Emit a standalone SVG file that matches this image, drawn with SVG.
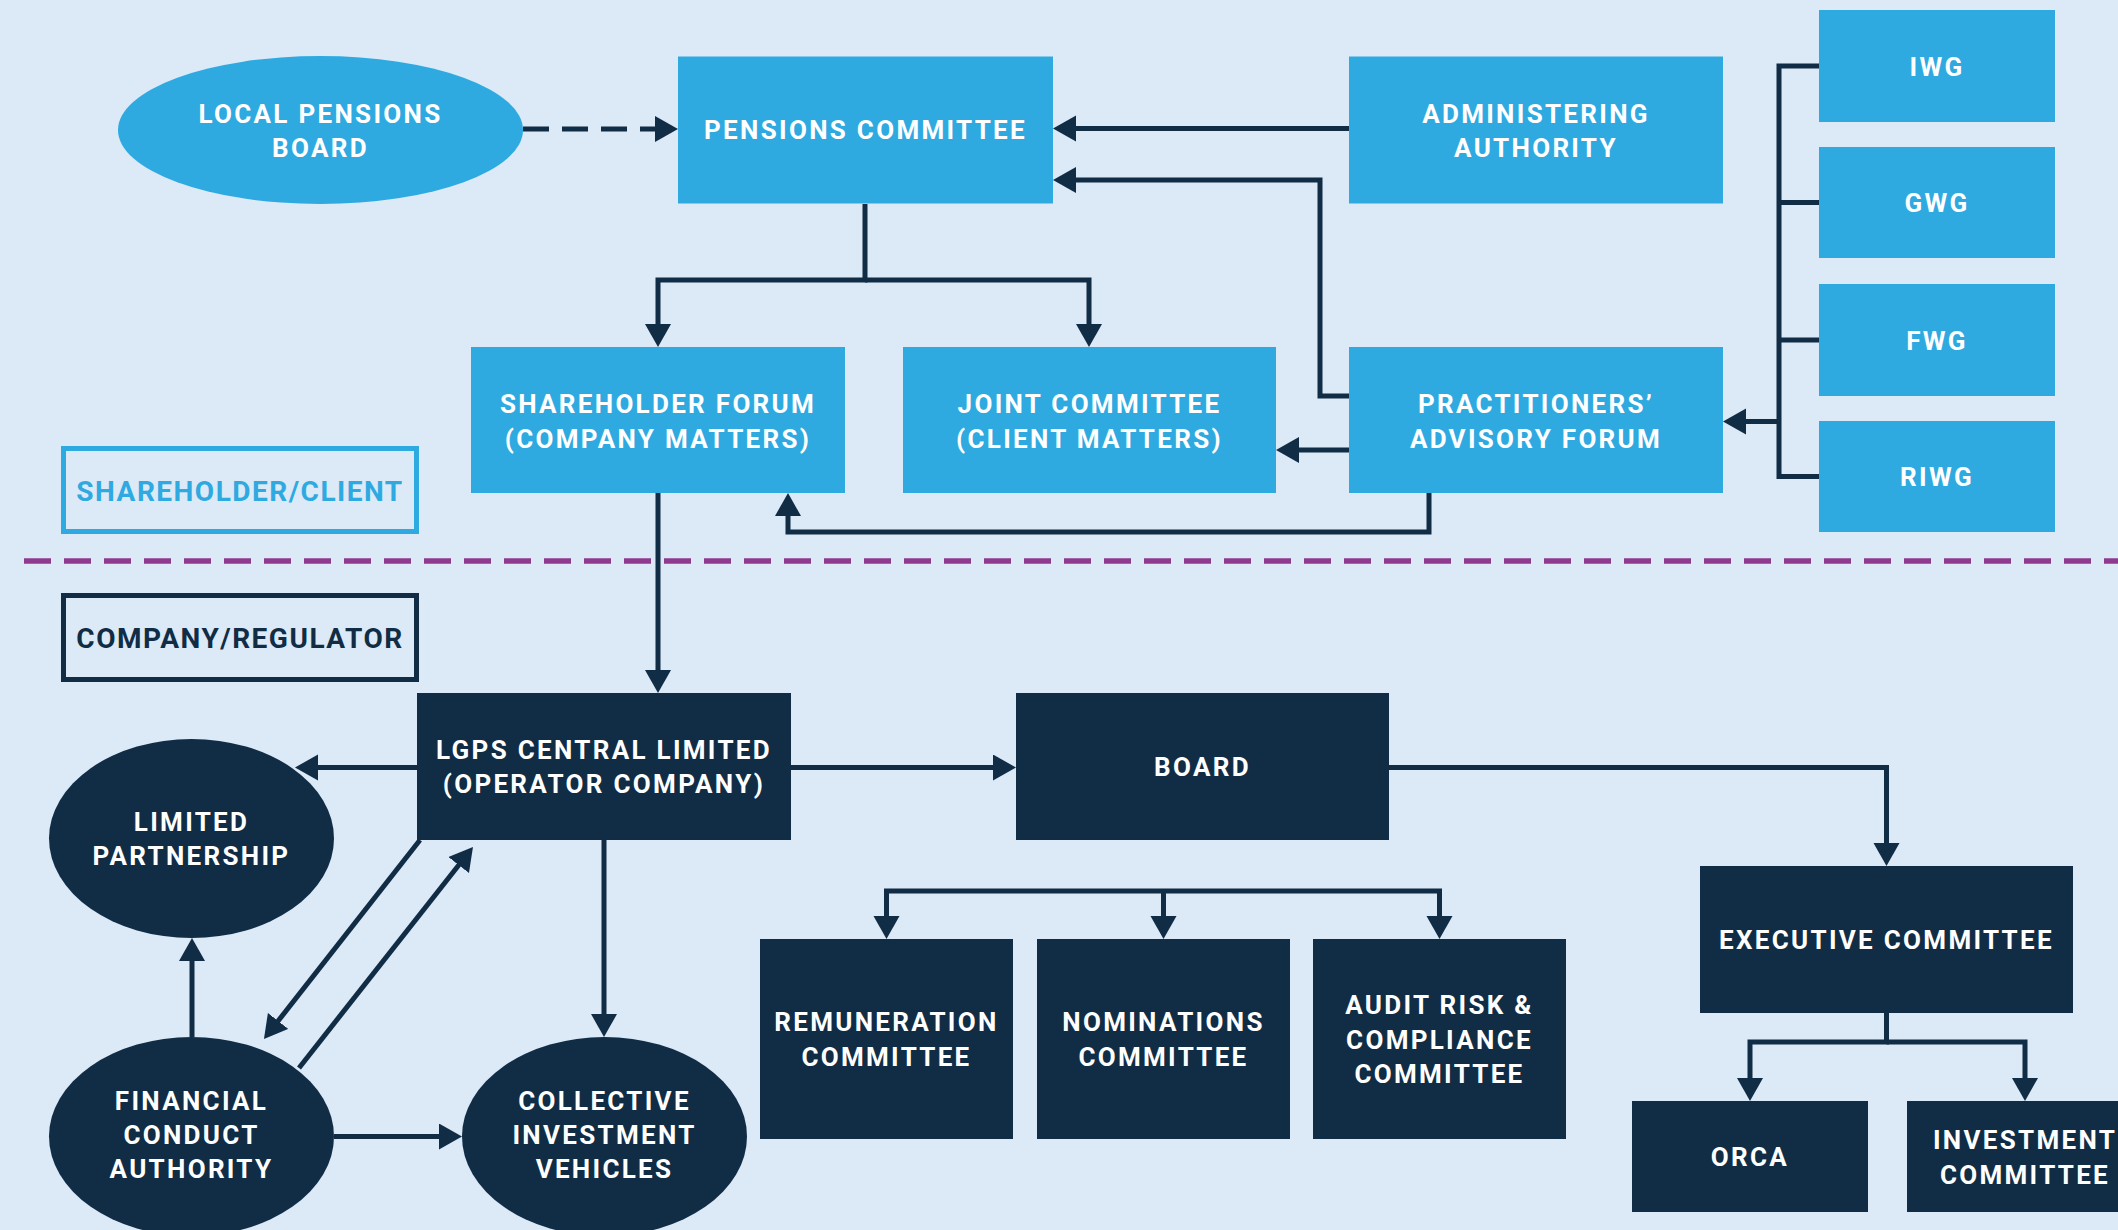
<svg xmlns="http://www.w3.org/2000/svg" width="2118" height="1230" viewBox="0 0 2118 1230">
  <defs>
    <style>
      .bg { fill: #dce9f7; }
      .lb { fill: #2eaae1; }
      .dk { fill: #102d45; }
      .t { font-family: Roboto, "Liberation Sans", sans-serif; font-weight: 700; font-size: 26px; letter-spacing: 2.3px; fill: #ffffff; text-anchor: middle; }
      .lab { font-family: Roboto, "Liberation Sans", sans-serif; font-weight: 700; font-size: 28px; letter-spacing: 1.5px; text-anchor: middle; }
      .conn path { fill: none; stroke: #102d45; stroke-width: 5; }
      .conn path.arr { marker-end: url(#ah); }
    </style>
    <marker id="ah" markerUnits="userSpaceOnUse" markerWidth="24" markerHeight="27" refX="3" refY="13" orient="auto-start-reverse" viewBox="0 0 24 27">
      <path d="M0,0 L23,13 L0,26 z" fill="#102d45"/>
    </marker>
  </defs>

  <rect class="bg" x="0" y="0" width="2118" height="1230"/>

  <!-- section divider -->
  <line x1="24" y1="561" x2="2118" y2="561" stroke="#8f3a8f" stroke-width="5.5" stroke-dasharray="27 13"/>

  <!-- section labels -->
  <g id="label-shareholder-client">
    <rect x="63.5" y="448.5" width="353" height="83" fill="none" stroke="#2eaae1" stroke-width="5"/>
    <text class="lab" x="240" y="501" fill="#2eaae1">SHAREHOLDER/CLIENT</text>
  </g>
  <g id="label-company-regulator">
    <rect x="63.5" y="595.5" width="353" height="84" fill="none" stroke="#102d45" stroke-width="5"/>
    <text class="lab" x="240" y="647.5" fill="#102d45">COMPANY/REGULATOR</text>
  </g>

  <!-- connectors -->
  <g id="connectors" class="conn">
    <path class="arr" d="M523,129 H658" stroke-dasharray="26 13"/>
    <path class="arr" d="M1349,128.5 H1073"/>
    <path class="arr" d="M1349,396 H1320 V180 H1073"/>
    <path class="arr" d="M865,204 V280 H658 V327"/>
    <path class="arr" d="M865,280 H1089 V327"/>
    <path class="arr" d="M1349,450 H1296"/>
    <path class="arr" d="M1429,493 V532 H788 V513"/>
    <path d="M1819,66 H1779 V476.5 H1819"/>
    <path d="M1779,202.5 H1819"/>
    <path d="M1779,340 H1819"/>
    <path class="arr" d="M1779,421.5 H1743"/>
    <path class="arr" d="M658,493 V673"/>
    <path class="arr" d="M417,767.5 H315"/>
    <path class="arr" d="M791,767.5 H996"/>
    <path class="arr" d="M1389,767.5 H1886.5 V846"/>
    <path class="arr" d="M886.5,919 V891 H1439.5 V919" style="marker-start:url(#ah)"/>
    <path class="arr" d="M1163.5,891 V919"/>
    <path class="arr" d="M1886.5,1013 V1042 H1750 V1081"/>
    <path class="arr" d="M1886.5,1042 H2025 V1081"/>
    <path class="arr" d="M604,840 V1017"/>
    <path class="arr" d="M192,1037 V958"/>
    <path class="arr" d="M334,1136.5 H442"/>
    <path class="arr" d="M420,840 L276.3,1023.3"/>
    <path class="arr" d="M299,1068 L460.6,862.7"/>
  </g>

  <!-- shareholder / client side -->
  <g id="local-pensions-board">
    <ellipse class="lb" cx="320.5" cy="130" rx="202.5" ry="74"/>
    <text class="t" x="320.5" y="122.5">LOCAL PENSIONS</text>
    <text class="t" x="320.5" y="156.5">BOARD</text>
  </g>
  <g id="pensions-committee">
    <rect class="lb" x="678" y="56.5" width="375" height="147"/>
    <text class="t" x="865.5" y="139">PENSIONS COMMITTEE</text>
  </g>
  <g id="administering-authority">
    <rect class="lb" x="1349" y="56.5" width="374" height="147"/>
    <text class="t" x="1536" y="122.5">ADMINISTERING</text>
    <text class="t" x="1536" y="156.5">AUTHORITY</text>
  </g>
  <g id="shareholder-forum">
    <rect class="lb" x="471" y="347" width="374" height="146"/>
    <text class="t" x="658" y="413">SHAREHOLDER FORUM</text>
    <text class="t" x="658" y="447.5">(COMPANY MATTERS)</text>
  </g>
  <g id="joint-committee">
    <rect class="lb" x="903" y="347" width="373" height="146"/>
    <text class="t" x="1089.5" y="413">JOINT COMMITTEE</text>
    <text class="t" x="1089.5" y="447.5">(CLIENT MATTERS)</text>
  </g>
  <g id="practitioners-advisory-forum">
    <rect class="lb" x="1349" y="347" width="374" height="146"/>
    <text class="t" x="1536" y="413">PRACTITIONERS’</text>
    <text class="t" x="1536" y="447.5">ADVISORY FORUM</text>
  </g>
  <g id="iwg">
    <rect class="lb" x="1819" y="10" width="236" height="112"/>
    <text class="t" x="1937" y="75.5">IWG</text>
  </g>
  <g id="gwg">
    <rect class="lb" x="1819" y="147" width="236" height="111"/>
    <text class="t" x="1937" y="212">GWG</text>
  </g>
  <g id="fwg">
    <rect class="lb" x="1819" y="284" width="236" height="112"/>
    <text class="t" x="1937" y="349.5">FWG</text>
  </g>
  <g id="riwg">
    <rect class="lb" x="1819" y="421" width="236" height="111"/>
    <text class="t" x="1937" y="486">RIWG</text>
  </g>

  <!-- company / regulator side -->
  <g id="lgps-central-limited">
    <rect class="dk" x="417" y="693" width="374" height="147"/>
    <text class="t" x="604" y="758.5">LGPS CENTRAL LIMITED</text>
    <text class="t" x="604" y="793">(OPERATOR COMPANY)</text>
  </g>
  <g id="board">
    <rect class="dk" x="1016" y="693" width="373" height="147"/>
    <text class="t" x="1202.5" y="776">BOARD</text>
  </g>
  <g id="limited-partnership">
    <ellipse class="dk" cx="191.5" cy="838.5" rx="142.5" ry="99.5"/>
    <text class="t" x="191.5" y="830.5">LIMITED</text>
    <text class="t" x="191.5" y="865">PARTNERSHIP</text>
  </g>
  <g id="financial-conduct-authority">
    <ellipse class="dk" cx="191.5" cy="1136.5" rx="142.5" ry="99.5"/>
    <text class="t" x="191.5" y="1109.5">FINANCIAL</text>
    <text class="t" x="191.5" y="1143.5">CONDUCT</text>
    <text class="t" x="191.5" y="1178">AUTHORITY</text>
  </g>
  <g id="collective-investment-vehicles">
    <ellipse class="dk" cx="604.5" cy="1136.5" rx="142.5" ry="99.5"/>
    <text class="t" x="604.5" y="1109.5">COLLECTIVE</text>
    <text class="t" x="604.5" y="1143.5">INVESTMENT</text>
    <text class="t" x="604.5" y="1178">VEHICLES</text>
  </g>
  <g id="remuneration-committee">
    <rect class="dk" x="760" y="939" width="253" height="200"/>
    <text class="t" x="886.5" y="1031">REMUNERATION</text>
    <text class="t" x="886.5" y="1065.5">COMMITTEE</text>
  </g>
  <g id="nominations-committee">
    <rect class="dk" x="1037" y="939" width="253" height="200"/>
    <text class="t" x="1163.5" y="1031">NOMINATIONS</text>
    <text class="t" x="1163.5" y="1065.5">COMMITTEE</text>
  </g>
  <g id="audit-risk-compliance-committee">
    <rect class="dk" x="1313" y="939" width="253" height="200"/>
    <text class="t" x="1439.5" y="1013.5">AUDIT RISK &amp;</text>
    <text class="t" x="1439.5" y="1048.5">COMPLIANCE</text>
    <text class="t" x="1439.5" y="1083">COMMITTEE</text>
  </g>
  <g id="executive-committee">
    <rect class="dk" x="1700" y="866" width="373" height="147"/>
    <text class="t" x="1886.5" y="949">EXECUTIVE COMMITTEE</text>
  </g>
  <g id="orca">
    <rect class="dk" x="1632" y="1101" width="236" height="111"/>
    <text class="t" x="1750" y="1166">ORCA</text>
  </g>
  <g id="investment-committee">
    <rect class="dk" x="1907" y="1101" width="236" height="111"/>
    <text class="t" x="2025" y="1149">INVESTMENT</text>
    <text class="t" x="2025" y="1184">COMMITTEE</text>
  </g>
</svg>
